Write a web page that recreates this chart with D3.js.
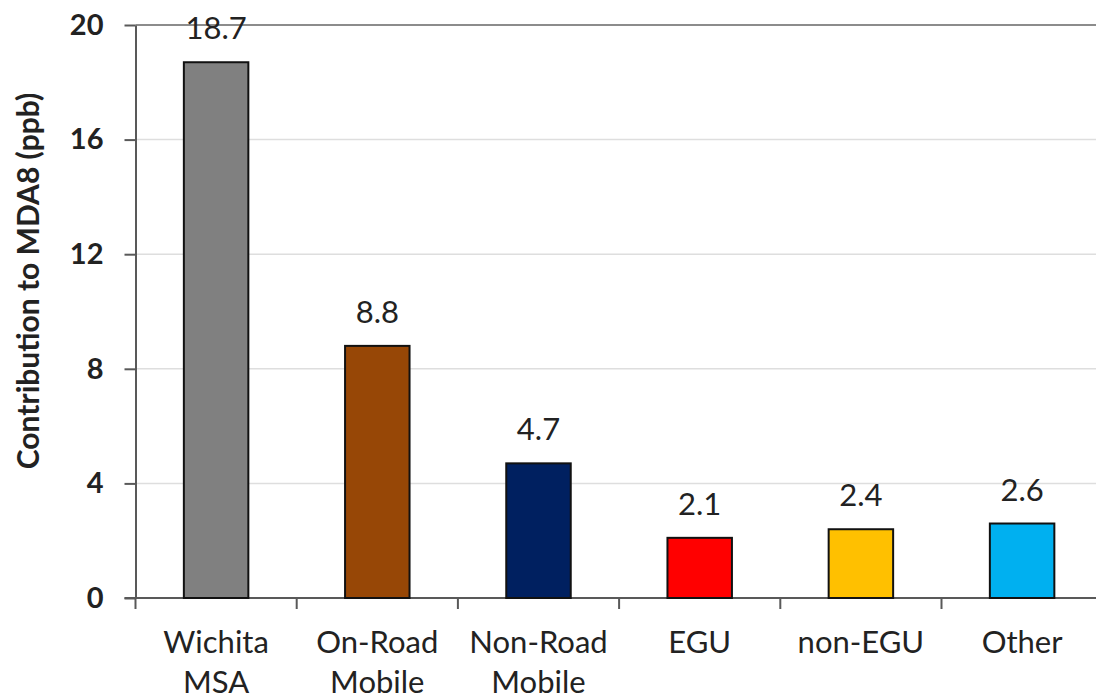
<!DOCTYPE html>
<html>
<head>
<meta charset="utf-8">
<script src="https://cdn.jsdelivr.net/npm/d3@7"></script>
<style>
  html, body { margin: 0; padding: 0; background: #ffffff; }
  svg { display: block; }
  text { font-family: Lato, "Open Sans", sans-serif; fill: #222222; }
</style>
</head>
<body>
<svg id="chart" width="1096" height="700"></svg>
<script>
// Source contributions to MDA8 ozone (ppb)
const categories = [["Wichita", "MSA"], ["On-Road", "Mobile"], ["Non-Road", "Mobile"], ["EGU"], ["non-EGU"], ["Other"]];
const values = [18.7, 8.8, 4.7, 2.1, 2.4, 2.6];
const barColors = ["#808080", "#974706", "#002060", "#FF0000", "#FFC000", "#00B0F0"];
const yTicks = [0, 4, 8, 12, 16, 20];
const yTitle = "Contribution to MDA8 (ppb)";

const svg = d3.select("#chart");
const plot = { left: 135.5, right: 1102.7, top: 25, bottom: 598 };

const keys = categories.map(c => c.join(" "));
const x = d3.scaleBand()
  .domain(keys)
  .range([plot.left, plot.right])
  .paddingInner(0.6)
  .paddingOuter(0.3);

const y = d3.scaleLinear()
  .domain([0, 20])
  .range([plot.bottom, plot.top]);

// horizontal gridlines
svg.append("g")
  .selectAll("line")
  .data(yTicks.filter(t => t > 0))
  .join("line")
  .attr("x1", plot.left)
  .attr("x2", 1096)
  .attr("y1", d => y(d))
  .attr("y2", d => y(d))
  .attr("stroke", d => d === 20 ? "#8c8c8c" : "#dedede")
  .attr("stroke-width", d => d === 20 ? 2 : 1.5);

// y axis
const yAxis = svg.append("g")
  .attr("transform", `translate(${plot.left},0)`)
  .call(d3.axisLeft(y).tickValues(yTicks).tickSizeInner(11).tickSizeOuter(0).tickPadding(21));
yAxis.select(".domain").attr("stroke", "#595959").attr("stroke-width", 2);
yAxis.selectAll(".tick line").attr("stroke", "#595959").attr("stroke-width", 2);
yAxis.selectAll(".tick text")
  .attr("font-family", "Lato, sans-serif")
  .attr("font-size", 29)
  .attr("font-weight", 700)
  .attr("fill", "#1a1a1a");

// x axis baseline with boundary ticks between categories
const step = x.step();
const boundaries = d3.range(keys.length + 1).map(i => plot.left + i * step);
const xAxis = svg.append("g");
xAxis.append("line")
  .attr("x1", plot.left - 11)
  .attr("x2", plot.right)
  .attr("y1", y(0))
  .attr("y2", y(0))
  .attr("stroke", "#595959")
  .attr("stroke-width", 2);
xAxis.selectAll("line.bt")
  .data(boundaries)
  .join("line")
  .attr("class", "bt")
  .attr("x1", d => d)
  .attr("x2", d => d)
  .attr("y1", y(0))
  .attr("y2", y(0) + 11)
  .attr("stroke", "#595959")
  .attr("stroke-width", 2);

// bars
svg.append("g")
  .selectAll("rect")
  .data(values)
  .join("rect")
  .attr("x", (d, i) => x(keys[i]))
  .attr("width", x.bandwidth())
  .attr("y", d => y(d))
  .attr("height", d => y(0) - y(d))
  .attr("fill", (d, i) => barColors[i])
  .attr("stroke", "#111111")
  .attr("stroke-width", 2);

// value labels
svg.append("g")
  .selectAll("text")
  .data(values)
  .join("text")
  .attr("x", (d, i) => x(keys[i]) + x.bandwidth() / 2)
  .attr("y", d => y(d) - 23)
  .attr("text-anchor", "middle")
  .attr("font-size", 31)
  .text(d => d.toFixed(1));

// category labels
const catG = svg.append("g");
categories.forEach((lines, i) => {
  const cx = x(keys[i]) + x.bandwidth() / 2;
  const t = catG.append("text")
    .attr("x", cx)
    .attr("y", 653)
    .attr("text-anchor", "middle")
    .attr("font-size", 31);
  lines.forEach((ln, j) => {
    t.append("tspan").attr("x", cx).attr("dy", j === 0 ? 0 : 40).text(ln);
  });
});

// y axis title
svg.append("text")
  .attr("transform", `translate(39,281) rotate(-90)`)
  .attr("text-anchor", "middle")
  .attr("font-size", 30)
  .attr("font-weight", 700)
  .attr("fill", "#1a1a1a")
  .text(yTitle);
</script>
</body>
</html>
